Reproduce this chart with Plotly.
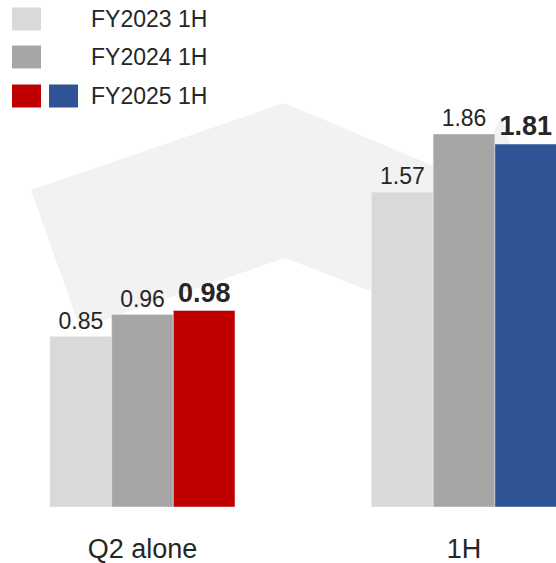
import plotly.graph_objects as go

# Categories and values
categories = ["Q2 alone", "1H"]
fy2023 = [0.85, 1.57]
fy2024 = [0.96, 1.86]
fy2025 = [0.98, 1.81]
series_names = ["FY2023 1H", "FY2024 1H", "FY2025 1H"]

W, H = 556, 563
PLOT_H = 507  # plot area height in px (bottom margin holds category labels)
FONT = "Liberation Sans, Arial, sans-serif"
TEXT_COLOR = "#262626"

C23 = "#D9D9D9"
C24 = "#A6A6A6"
C25 = ["#C00000", "#2F5597"]


def px(x, y):
    """Convert pixel position inside the plot area to paper coordinates."""
    return x / W, 1 - y / PLOT_H


fig = go.Figure()

fig.add_trace(go.Bar(
    x=categories, y=fy2023, name=series_names[0], marker_color=C23,
    text=[f"{v:.2f}" for v in fy2023], textposition="outside",
    textfont=dict(size=23, color=TEXT_COLOR, family=FONT),
    constraintext="none", cliponaxis=False,
))
fig.add_trace(go.Bar(
    x=categories, y=fy2024, name=series_names[1], marker_color=C24,
    text=[f"{v:.2f}" for v in fy2024], textposition="outside",
    textfont=dict(size=23, color=TEXT_COLOR, family=FONT),
    constraintext="none", cliponaxis=False,
))
fig.add_trace(go.Bar(
    x=categories, y=fy2025, name=series_names[2], marker_color=C25,
    text=[f"<b>{v:.2f}</b>" for v in fy2025], textposition="outside",
    textfont=dict(size=27, color=TEXT_COLOR, family=FONT),
    constraintext="none", cliponaxis=False,
))

# Background arrow sweeping from the Q2 group up and over to the 1H group
arrow_pts = [(31, 190), (284, 103), (472, 182), (501, 116), (560, 296),
             (387, 375), (416, 309), (285, 258), (80, 328)]
path = "M " + " L ".join("{:.4f},{:.4f}".format(*px(x, y)) for x, y in arrow_pts) + " Z"
shapes = [dict(type="path", path=path, xref="paper", yref="paper",
               fillcolor="#F2F2F2", line=dict(width=0), layer="below")]

# Custom legend: swatches plus labels
legend_rows = [
    (19, [C23]),
    (57, [C24]),
    (96, C25),
]
annotations = []
for (cy, colors), name in zip(legend_rows, series_names):
    for i, col in enumerate(colors):
        x0 = 12 + i * 37
        xa, ya = px(x0, cy - 11.5)
        xb, yb = px(x0 + 29, cy + 11.5)
        shapes.append(dict(type="rect", xref="paper", yref="paper",
                           x0=xa, x1=xb, y0=yb, y1=ya,
                           fillcolor=col, line=dict(width=0)))
    tx, ty = px(89, cy)
    annotations.append(dict(text=name, x=tx, y=ty, xref="paper", yref="paper",
                            xanchor="left", yanchor="middle", showarrow=False,
                            font=dict(size=23, color=TEXT_COLOR, family=FONT)))

# Group centres at 142.5 px and 464 px
unit = 464 - 142.5
x_lo = -142.5 / unit
x_hi = (W - 142.5) / unit

fig.update_layout(
    width=W, height=H,
    margin=dict(l=0, r=0, t=0, b=H - PLOT_H, pad=0),
    paper_bgcolor="white", plot_bgcolor="rgba(0,0,0,0)",
    barmode="group", bargap=1 - 185 / unit, bargroupgap=0,
    showlegend=False,
    shapes=shapes, annotations=annotations,
    font=dict(family=FONT, color=TEXT_COLOR),
    xaxis=dict(range=[x_lo, x_hi], showgrid=False, zeroline=False,
               showline=False, ticks="", ticklabelstandoff=23,
               tickfont=dict(size=27, color=TEXT_COLOR, family=FONT)),
    yaxis=dict(range=[0, PLOT_H / 200.5], visible=False, showgrid=False,
               zeroline=False),
)

fig.write_html("out.html")
